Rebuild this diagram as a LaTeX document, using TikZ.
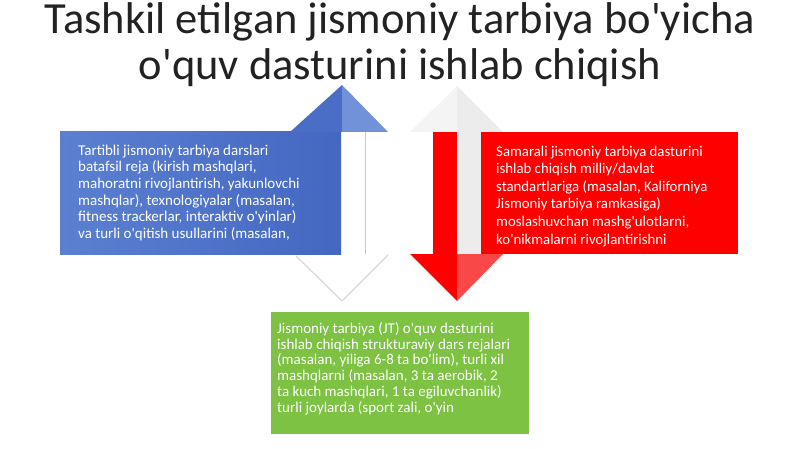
\documentclass[tikz,border=0pt]{standalone}
\usepackage{fontspec}
\setmainfont{Carlito}
\newcommand{\apq}{\textquotesingle}
\definecolor{titlec}{HTML}{222222}
\definecolor{blueL}{HTML}{5B80D1}
\definecolor{blueD}{HTML}{4467C1}
\definecolor{blueHL}{HTML}{4A6DC5}
\definecolor{blueHR}{HTML}{7191D8}
\definecolor{redA}{HTML}{FF0000}
\definecolor{redB}{HTML}{F84848}
\definecolor{greyA}{HTML}{ECECEC}
\definecolor{greyB}{HTML}{F4F4F4}
\definecolor{greyL}{HTML}{C8C8C8}
\definecolor{greenA}{HTML}{7DC243}
\tikzset{
  bodytext/.style={text=white, align=left, inner sep=0pt, anchor=base west},
  titletext/.style={font=\fontsize{44.5}{45.5}\selectfont, text=titlec, align=center, inner sep=0pt, anchor=base},
}
\begin{document}
\begin{tikzpicture}[x=1pt,y=-1pt]
\useasboundingbox (0,0) rectangle (800,449);
\fill[white] (0,0) rectangle (800,449);
% title (base anchor = last line)
\node[titletext] (title) at (400,79.5) {Tashkil etilgan jismoniy tarbiya bo\apq yicha\\o\apq quv dasturini ishlab chiqish};
% blue up arrow with box
\fill[left color=blueL, right color=blueD] (60,132) rectangle (341,254);
\fill[blueHL] (290,132) -- (342,85) -- (342,132) -- cycle;
\fill[blueHR] (342,85) -- (388,132) -- (342,132) -- cycle;
\draw[greyL, line width=1pt] (365,132) -- (365,254);
\draw[greyL!70, line width=1.2pt, line join=round] (296,256) -- (342,301) -- (388,255);
% red down arrow with box
\fill[greyB] (410,132) -- (457,86) -- (457,132) -- cycle;
\fill[greyA] (457,86) -- (503,132) -- (457,132) -- cycle;
\fill[greyA] (457,132) rectangle (481,254);
\fill[redA] (433,132) rectangle (457,254);
\fill[redA] (481,132) rectangle (738,254);
\fill[redA] (410,254) -- (457,301) -- (457,254) -- cycle;
\fill[redB] (457,254) -- (457,301) -- (503,254) -- cycle;
% green box
\fill[greenA] (271,312) rectangle (529,434);
% texts (base anchor = baseline of last line)
\node[bodytext, font=\fontsize{15}{16.7}\selectfont] (bluetext) at (78,238.5) {Tartibli jismoniy tarbiya darslari\\batafsil reja (kirish mashqlari,\\mahoratni rivojlantirish, yakunlovchi\\mashqlar), texnologiyalar (masalan,\\fitness trackerlar, interaktiv o\apq yinlar)\\va turli o\apq qitish usullarini (masalan,};
\node[bodytext, font=\fontsize{14.8}{17.6}\selectfont] (redtext) at (496,244) {Samarali jismoniy tarbiya dasturini\\ishlab chiqish milliy/davlat\\standartlariga (masalan, Kaliforniya\\Jismoniy tarbiya ramkasiga)\\moslashuvchan mashg\apq ulotlarni,\\ko\apq nikmalarni rivojlantirishni};
\node[bodytext, font=\fontsize{15}{15.7}\selectfont] (greentext) at (277,412) {Jismoniy tarbiya (JT) o\apq quv dasturini\\ishlab chiqish strukturaviy dars rejalari\\(masalan, yiliga 6-8 ta bo\apq lim), turli xil\\mashqlarni (masalan, 3 ta aerobik, 2\\ta kuch mashqlari, 1 ta egiluvchanlik)\\turli joylarda (sport zali, o\apq yin};
\end{tikzpicture}
\end{document}
